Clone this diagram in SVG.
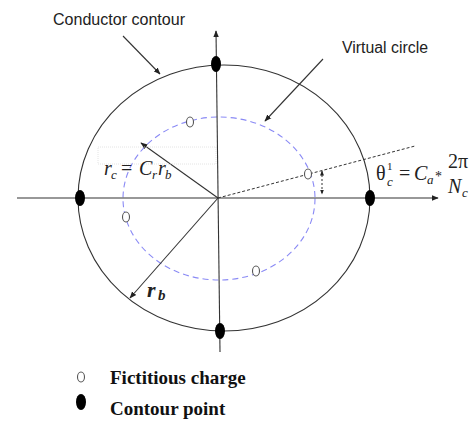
<svg xmlns="http://www.w3.org/2000/svg" width="469" height="421" viewBox="0 0 469 421">
<style>
.ln{stroke:#333;stroke-width:1.1;fill:none}
.lbl{font-family:"Liberation Sans",Arial,sans-serif;font-size:16px;fill:#222}
.math{font-family:"Liberation Serif","Times New Roman",serif;font-style:italic;fill:#222}
.leg{font-family:"Liberation Serif","Times New Roman",serif;font-weight:bold;font-size:19px;fill:#111}
.fc{fill:#fff;stroke:#555;stroke-width:1.1}
.cp{fill:#000}
</style>
<defs>
<marker id="ah" viewBox="0 0 10 10" refX="9" refY="5" markerWidth="7" markerHeight="7" orient="auto-start-reverse" markerUnits="userSpaceOnUse">
<path d="M0,1 L10,5 L0,9 z" fill="#222"/>
</marker>
<marker id="ahs" viewBox="0 0 10 10" refX="9" refY="5" markerWidth="5" markerHeight="5" orient="auto-start-reverse" markerUnits="userSpaceOnUse">
<path d="M0,1 L10,5 L0,9 z" fill="#222"/>
</marker>
</defs>

<g id="conductor-contour">
<ellipse cx="224" cy="198" rx="146" ry="133" class="ln"/>
</g>
<g id="virtual-circle">
<ellipse cx="219" cy="198.5" rx="96" ry="81.5" fill="none" stroke="#8a8af5" stroke-width="1.1" stroke-dasharray="6,4"/>
</g>

<g id="connectors">
<line x1="17" y1="198" x2="438" y2="198" class="ln" marker-end="url(#ah)"/>
<line x1="220" y1="352" x2="216" y2="31" class="ln" marker-end="url(#ah)"/>
<line x1="218" y1="198" x2="141" y2="143" class="ln" marker-end="url(#ah)"/>
<line x1="218" y1="198" x2="130" y2="298" class="ln" marker-end="url(#ah)"/>
<line x1="218" y1="198" x2="415" y2="146" stroke="#333" stroke-width="1" stroke-dasharray="3,2"/>
<line x1="322" y1="171" x2="322" y2="194" stroke="#333" stroke-width="1" stroke-dasharray="2,2" marker-start="url(#ahs)" marker-end="url(#ahs)"/>
<line x1="123" y1="36" x2="160" y2="74" class="ln" marker-end="url(#ah)"/>
<line x1="323" y1="59" x2="265" y2="121" class="ln" marker-end="url(#ah)"/>
<rect x="98" y="147" width="118" height="17" fill="none" stroke="#ddd" stroke-width="0.8" stroke-dasharray="1,1"/>
</g>

<g id="contour-points">
<ellipse cx="216" cy="64" rx="5" ry="8" class="cp"/>
<ellipse cx="80" cy="198" rx="5" ry="8" class="cp"/>
<ellipse cx="370" cy="198" rx="5" ry="8" class="cp"/>
<ellipse cx="220" cy="331" rx="5" ry="8" class="cp"/>
</g>

<g id="fictitious-charges">
<ellipse cx="190" cy="122" rx="3.5" ry="5" class="fc"/>
<ellipse cx="308" cy="174" rx="3.5" ry="5" class="fc"/>
<ellipse cx="126" cy="217" rx="3.5" ry="5" class="fc"/>
<ellipse cx="256" cy="271" rx="3.5" ry="5" class="fc"/>
</g>

<g id="label-conductor">
<text x="53" y="25" class="lbl" textLength="132" lengthAdjust="spacingAndGlyphs">Conductor contour</text>
</g>
<g id="label-virtual">
<text x="342" y="53" class="lbl" textLength="86" lengthAdjust="spacingAndGlyphs">Virtual circle</text>
</g>

<g id="label-rc">
<text class="math" font-size="20"><tspan x="104" y="175">r</tspan><tspan x="111" y="179" font-size="13">c</tspan><tspan x="121" y="175" font-style="normal">=</tspan><tspan x="139" y="175">C</tspan><tspan x="152" y="179" font-size="13">r</tspan><tspan x="158" y="175">r</tspan><tspan x="165" y="179" font-size="13">b</tspan></text>
</g>

<g id="label-theta">
<text class="math" font-size="20"><tspan x="376" y="180" font-style="normal">θ</tspan><tspan x="387" y="186" font-size="13">c</tspan><tspan x="399" y="180" font-style="normal">=</tspan><tspan x="414" y="180">C</tspan><tspan x="427" y="184" font-size="13">a</tspan><tspan x="435" y="181" font-size="14" font-style="normal">*</tspan><tspan x="448" y="168" font-style="normal">2π</tspan><tspan x="448" y="193">N</tspan><tspan x="462" y="197" font-size="13">c</tspan></text>
<text x="387" y="170" class="math" font-size="11" style="font-style:normal">1</text>
</g>

<g id="label-rb">
<text class="math" font-weight="bold" font-size="22"><tspan x="147" y="297">r</tspan><tspan x="158" y="300" font-size="15">b</tspan></text>
</g>

<g id="legend">
<ellipse cx="81" cy="377" rx="3.5" ry="5" class="fc"/>
<text x="110" y="384" class="leg">Fictitious charge</text>
<ellipse cx="81" cy="402" rx="5" ry="8" class="cp"/>
<text x="110" y="415" class="leg">Contour point</text>
</g>
</svg>
